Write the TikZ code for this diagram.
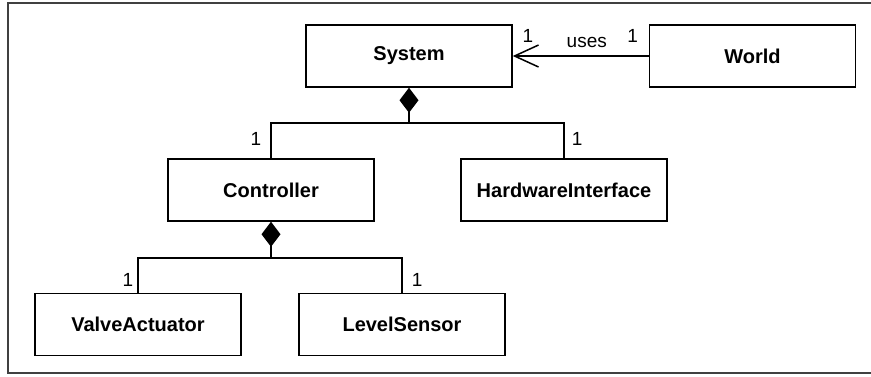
\documentclass[tikz,border=0pt]{standalone}
\usepackage{fontspec}
\setmainfont{Liberation Sans}
\usetikzlibrary{arrows.meta,positioning}

\begin{document}
\begin{tikzpicture}[
    x=1pt, y=-1pt,
    node distance=136pt,
    every node/.style={font=\fontsize{19}{22}\selectfont},
    classbox/.style={draw, line width=1.5pt, minimum width=206pt, minimum height=62pt, font=\fontsize{20}{24}\selectfont\bfseries},
    mult/.style={inner sep=2pt},
    link/.style={line width=1.5pt},
    comp/.style={link, -{Diamond[length=25pt,width=19pt]}},
    uses/.style={link, -{Straight Barb[length=24pt,width=22pt]}}
]
\useasboundingbox (0,0) rectangle (871,376);
\draw[line width=1.6pt, black!75] (871,3) -- (8,3) -- (8,373) -- (871,373);

\node[classbox] (sys) at (409,56) {System};
\node[classbox, right=of sys] (world) {World};
\node[classbox] (ctrl) at (271,190) {Controller};
\node[classbox] (hw) at (564,190) {HardwareInterface};
\node[classbox] (valve) at (138,324.5) {ValveActuator};
\node[classbox] (level) at (402,324.5) {LevelSensor};

\coordinate (sysjoin) at (409,123);
\coordinate (ctrljoin) at (271,258);

% composition: System
\draw[link] (ctrl.north) |- (sysjoin) node[mult, pos=0.27, left=7pt] {1};
\draw[link] (hw.north) |- (sysjoin) node[mult, pos=0.27, right=5pt] {1};
\draw[comp] (sysjoin) -- (sys.south);

% composition: Controller
\draw[link] (valve.north) |- (ctrljoin) node[mult, pos=0.18, left=2pt] {1};
\draw[link] (level.north) |- (ctrljoin) node[mult, pos=0.18, right=7pt] {1};
\draw[comp] (ctrljoin) -- (ctrl.south);

% association World -> System
\draw[uses] (world.west) -- node[above=4pt, xshift=6pt] {uses} (sys.east)
    node[mult, at start, above left=11pt and 8pt] {1}
    node[mult, at end, above right=11pt and 7pt] {1};

\end{tikzpicture}
\end{document}
